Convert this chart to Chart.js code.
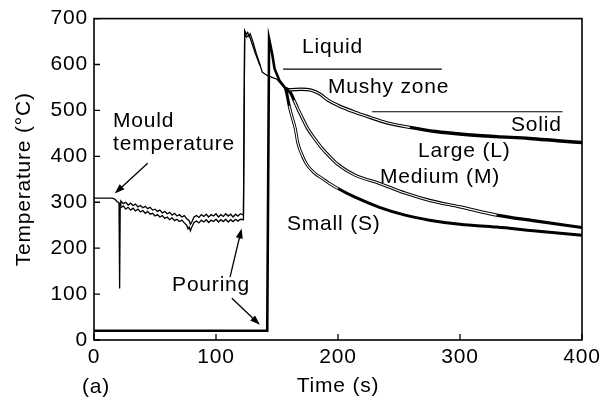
<!DOCTYPE html>
<html>
<head>
<meta charset="utf-8">
<script src="https://cdn.jsdelivr.net/npm/chart.js@4/dist/chart.umd.min.js"></script>
<style>
  body { margin: 0; background: #fff; }
  canvas { display: block; }
</style>
</head>
<body>
<canvas id="cooling" width="605" height="403"></canvas>
<script>
// mould thermocouple, upper and lower trace of the doubled line
const mouldTimeA = [0, 15, 17, 19, 20.5, 21, 21.5, 22, 24, 26, 28, 30, 32, 34, 36, 38, 40, 42, 44, 46, 48, 50, 52, 54, 56, 58, 60, 62, 64, 66, 68, 70, 72, 74, 76, 78, 79, 80, 82, 84, 86, 88, 90, 92, 94, 96, 98, 100, 102, 104, 106, 108, 110, 112, 114, 116, 118, 120, 122.5, 123.5, 125, 126, 127, 128, 130, 133, 136, 138, 142, 146, 150, 154, 157];
const mouldTempA = [309, 309, 307, 301, 299, 112, 292, 303, 297, 300, 294, 298, 293, 296, 290, 293, 288, 291, 286, 289, 283, 285, 280, 283, 277, 280, 275, 278, 272, 276, 270, 273, 268, 271, 264, 260, 252, 256, 268, 271, 267, 273, 269, 274, 268, 273, 270, 275, 268, 273, 269, 275, 270, 274, 268, 274, 270, 275, 272, 674, 666, 670, 662, 667, 652, 624, 600, 583, 576, 572, 568, 556, 546];
const mouldTimeB = [22, 24, 26, 28, 30, 32, 34, 36, 38, 40, 42, 44, 46, 48, 50, 52, 54, 56, 58, 60, 62, 64, 66, 68, 70, 72, 74, 76, 77, 78, 79, 80, 82, 84, 86, 88, 90, 92, 94, 96, 98, 100, 102, 104, 106, 108, 110, 112, 114, 116, 118, 120, 122.5, 123.5, 125, 127, 129, 132, 136];
const mouldTempB = [288, 292, 285, 289, 283, 287, 281, 285, 279, 282, 276, 280, 274, 276, 270, 273, 268, 271, 265, 268, 262, 266, 260, 263, 258, 261, 255, 250, 242, 246, 238, 245, 256, 259, 255, 261, 257, 262, 256, 261, 258, 263, 257, 262, 258, 263, 257, 262, 258, 263, 259, 263, 262, 668, 660, 664, 650, 626, 598];

// metal thermocouple: empty reading, then pouring spike
const pourTime = [0, 142, 143.5, 146, 148, 152, 157];
const pourTemp = [20, 20, 656, 624, 591, 565, 548];

// cooling curves for the three casting sizes
const largeTime = [157, 160, 170, 178, 185, 192, 200, 214, 226, 240, 259, 280, 302, 330, 357, 380, 400];
const largeTemp = [548, 545, 546, 544, 536, 522, 511, 496, 485, 473, 463, 454, 448, 443, 439, 434, 430];
const mediumTime = [157, 161, 164, 167, 171, 175, 181, 187, 193, 200, 214, 234, 255, 275, 300, 330, 360, 400];
const mediumTemp = [548, 539, 522, 504, 482, 461, 438, 417, 400, 382, 359, 341, 320, 304, 290, 272, 260, 245];
const smallTime = [157, 158, 160, 162, 165, 167, 171, 175, 181, 187, 193, 200, 214, 234, 255, 275, 300, 330, 360, 400];
const smallTemp = [548, 537, 510, 489, 460, 430, 400, 380, 363, 352, 341, 330, 311, 289, 272, 261, 252, 246, 238, 228];

// phase boundaries
const liquidTime = [155, 285];
const liquidTemp = [590, 590];
const solidTime = [228, 384];
const solidTemp = [497, 497];

const xTicks = [0, 100, 200, 300, 400];
const yTicks = [0, 100, 200, 300, 400, 500, 600, 700];

const labels = [
  { text: 'Liquid', x: 170.5, y: 624 },
  { text: 'Mushy zone', x: 191.8, y: 539 },
  { text: 'Solid', x: 341.8, y: 456 },
  { text: 'Large (L)', x: 265.6, y: 398 },
  { text: 'Medium (M)', x: 234.4, y: 341 },
  { text: 'Small (S)', x: 158.2, y: 239 },
  { text: 'Mould', x: 15.6, y: 463 },
  { text: 'temperature', x: 15.6, y: 413 },
  { text: 'Pouring', x: 64, y: 106 }
];
const arrows = [
  { from: [44, 385], to: [17, 319] },
  { from: [111.5, 137], to: [121, 243] },
  { from: [113, 91], to: [136, 33] }
];

const pts = (xs, ys) => xs.map((x, i) => ({ x: x, y: ys[i] }));
const FONT = 'Liberation Sans, Arial, Helvetica, sans-serif';
Chart.defaults.font.family = FONT;
Chart.defaults.color = '#000';

function line(data, width, extra) {
  return Object.assign({
    data: data,
    borderColor: '#000',
    borderWidth: width,
    pointRadius: 0,
    fill: false,
    tension: 0,
    order: 2
  }, extra || {});
}

// white core line that makes a curve look doubled over part of its length
function core(data, from, to) {
  return line(data, 1.1, {
    order: 0,
    cubicInterpolationMode: 'monotone',
    segment: {
      borderColor: ctx => (ctx.p0.parsed.x >= from && ctx.p1.parsed.x <= to) ? '#fff' : 'rgba(0,0,0,0)'
    }
  });
}

const figurePlugin = {
  id: 'figure',
  beforeDraw(chart) {
    chart.ctx.letterSpacing = '0.8px';
  },
  afterDatasetsDraw(chart) {
    const { ctx, chartArea: a, scales: { x, y } } = chart;
    ctx.save();
    ctx.strokeStyle = '#000';
    ctx.fillStyle = '#000';
    // frame and inward ticks
    ctx.lineWidth = 1.6;
    ctx.strokeRect(a.left, a.top, a.right - a.left, a.bottom - a.top);
    ctx.lineWidth = 1.3;
    ctx.beginPath();
    yTicks.forEach(v => {
      const py = y.getPixelForValue(v);
      ctx.moveTo(a.left, py);
      ctx.lineTo(a.left + 6, py);
    });
    xTicks.forEach(v => {
      const px = x.getPixelForValue(v);
      ctx.moveTo(px, a.bottom);
      ctx.lineTo(px, a.bottom - 6);
    });
    ctx.stroke();

    // arrows
    arrows.forEach(ar => {
      const x0 = x.getPixelForValue(ar.from[0]), y0 = y.getPixelForValue(ar.from[1]);
      const x1 = x.getPixelForValue(ar.to[0]), y1 = y.getPixelForValue(ar.to[1]);
      const ang = Math.atan2(y1 - y0, x1 - x0);
      ctx.lineWidth = 1.3;
      ctx.beginPath();
      ctx.moveTo(x0, y0);
      ctx.lineTo(x1 - 6 * Math.cos(ang), y1 - 6 * Math.sin(ang));
      ctx.stroke();
      ctx.beginPath();
      ctx.moveTo(x1, y1);
      ctx.lineTo(x1 - 10 * Math.cos(ang) + 3.5 * Math.sin(ang), y1 - 10 * Math.sin(ang) - 3.5 * Math.cos(ang));
      ctx.lineTo(x1 - 10 * Math.cos(ang) - 3.5 * Math.sin(ang), y1 - 10 * Math.sin(ang) + 3.5 * Math.cos(ang));
      ctx.closePath();
      ctx.fill();
    });

    // annotations
    ctx.font = '21px ' + FONT;
    ctx.textAlign = 'left';
    ctx.textBaseline = 'alphabetic';
    labels.forEach(l => {
      ctx.fillText(l.text, x.getPixelForValue(l.x), y.getPixelForValue(l.y));
    });
    ctx.fillText('(a)', a.left - 12, 393);
    ctx.restore();
  }
};

const coolingConfig = {
  type: 'line',
  data: {
    datasets: [
      core(pts(largeTime, largeTemp), 160, 262),
      core(pts(mediumTime, mediumTemp), 164, 330),
      core(pts(smallTime, smallTemp), 160, 200),
      line(pts(mouldTimeA, mouldTempA), 1.3),
      line(pts(mouldTimeB, mouldTempB), 1.3),
      line(pts(pourTime, pourTemp), 2.6),
      line(pts(largeTime, largeTemp), 3.4, { cubicInterpolationMode: 'monotone' }),
      line(pts(mediumTime, mediumTemp), 3.2, { cubicInterpolationMode: 'monotone' }),
      line(pts(smallTime, smallTemp), 3.0, { cubicInterpolationMode: 'monotone' }),
      line(pts(liquidTime, liquidTemp), 1.1),
      line(pts(solidTime, solidTemp), 1.1)
    ]
  },
  options: {
    responsive: false,
    animation: false,
    devicePixelRatio: 1,
    layout: { padding: { left: 0, top: 18, right: 23, bottom: 0 } },
    plugins: { legend: { display: false }, tooltip: { enabled: false } },
    scales: {
      x: {
        type: 'linear',
        min: 0,
        max: 400,
        afterFit: s => { s.height = 63; },
        afterBuildTicks: s => { s.ticks = xTicks.map(v => ({ value: v })); },
        grid: { display: false, drawTicks: false },
        border: { display: false },
        ticks: { padding: 5, font: { size: 21 }, color: '#000', maxRotation: 0 },
        title: { display: true, text: 'Time (s)', font: { size: 21 }, color: '#000', padding: { top: 0, bottom: 4 } }
      },
      y: {
        min: 0,
        max: 700,
        afterFit: s => { s.width = 94; },
        afterBuildTicks: s => { s.ticks = yTicks.map(v => ({ value: v })); },
        grid: { display: false, drawTicks: false },
        border: { display: false },
        ticks: { padding: 6, font: { size: 21 }, color: '#000' },
        title: { display: true, text: 'Temperature (°C)', font: { size: 21 }, color: '#000', padding: { top: 12, bottom: 0 } }
      }
    }
  },
  plugins: [figurePlugin]
};

window.coolingChart = new Chart(document.getElementById('cooling'), coolingConfig);
</script>
</body>
</html>
